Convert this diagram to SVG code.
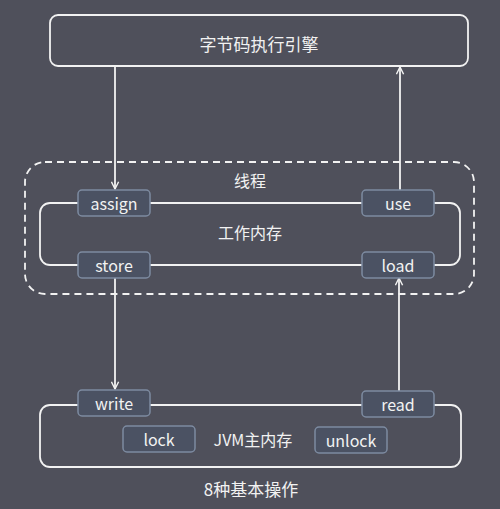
<svg xmlns="http://www.w3.org/2000/svg" width="500" height="509" viewBox="0 0 500 509">
<style>
.t{font-family:"Noto Sans CJK SC","Noto Sans",sans-serif;fill:#f2f2f2;text-anchor:middle;dominant-baseline:central}
.big{font-size:17px}
.lbl{font-size:16px}
.b{fill:#4b5263;stroke:#7d8ba1;stroke-width:1.5}
.ln{fill:none;stroke:#f2f2f2;stroke-width:1.8}
</style>
<defs>
<marker id="ah" viewBox="0 0 10 10" refX="9" refY="5" markerWidth="9" markerHeight="9" markerUnits="userSpaceOnUse" orient="auto">
<path d="M1,1 L9,5 L1,9" fill="none" stroke="#f2f2f2" stroke-width="1.6"/>
</marker>
</defs>
<rect x="0" y="0" width="500" height="509" fill="#4f505b"/>
<g id="engine">
<rect x="50" y="15" width="418" height="51" rx="8" class="ln"/>
<text x="259" y="43" class="t big">字节码执行引擎</text>
</g>
<g id="thread">
<rect x="25" y="162" width="449" height="132" rx="20" class="ln" stroke-dasharray="7,5"/>
<text x="250" y="180" class="t lbl">线程</text>
</g>
<g id="workmem">
<rect x="40" y="203" width="420" height="62" rx="10" class="ln"/>
<text x="250" y="232" class="t lbl">工作内存</text>
</g>
<g id="mainmem">
<rect x="40" y="405" width="421" height="62" rx="10" class="ln"/>
<text x="253" y="439" class="t lbl">JVM主内存</text>
</g>
<g id="connectors">
<line x1="115" y1="66" x2="115" y2="189" class="ln" marker-end="url(#ah)"/>
<line x1="400" y1="190" x2="400" y2="67" class="ln" marker-end="url(#ah)"/>
<line x1="115" y1="277" x2="115" y2="389" class="ln" marker-end="url(#ah)"/>
<line x1="399" y1="391" x2="399" y2="278" class="ln" marker-end="url(#ah)"/>
</g>
<g id="assign"><rect x="78" y="190" width="72" height="26" rx="4" class="b"/><text x="114" y="203" class="t lbl">assign</text></g>
<g id="use"><rect x="362" y="190" width="72" height="26" rx="4" class="b"/><text x="398" y="203" class="t lbl">use</text></g>
<g id="store"><rect x="78" y="252" width="72" height="26" rx="4" class="b"/><text x="114" y="265" class="t lbl">store</text></g>
<g id="load"><rect x="362" y="252" width="72" height="26" rx="4" class="b"/><text x="398" y="265" class="t lbl">load</text></g>
<g id="write"><rect x="78" y="390" width="72" height="26" rx="4" class="b"/><text x="114" y="403" class="t lbl">write</text></g>
<g id="read"><rect x="362" y="391" width="72" height="26" rx="4" class="b"/><text x="398" y="404" class="t lbl">read</text></g>
<g id="lock"><rect x="123" y="426" width="72" height="26" rx="4" class="b"/><text x="159" y="439" class="t lbl">lock</text></g>
<g id="unlock"><rect x="315" y="427" width="72" height="26" rx="4" class="b"/><text x="351" y="440" class="t lbl">unlock</text></g>
<text x="251" y="488" class="t big">8种基本操作</text>
</svg>
